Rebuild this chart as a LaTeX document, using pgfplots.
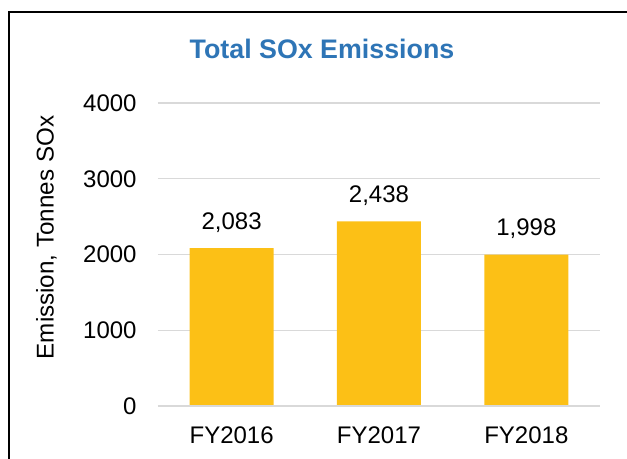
\documentclass[border=0pt]{standalone}
\usepackage{fontspec}
\setmainfont{Liberation Sans}
\usepackage{pgfplots}
\pgfplotsset{compat=1.18}
\definecolor{barfill}{HTML}{FCC016}
\definecolor{titleblue}{HTML}{2E75B6}
\definecolor{gridgray}{HTML}{D9D9D9}
\begin{document}
\begin{tikzpicture}
\path[use as bounding box] (-79pt,-26.5pt) rectangle (234.5pt,203pt);
\draw[black, line width=1pt] (-74.5pt,-26.5pt) -- (-74.5pt,197pt) -- (234.5pt,197pt);
\begin{axis}[
  at={(0,0)}, anchor=south west,
  scale only axis,
  width=221pt, height=151.5pt,
  ybar, bar width=42pt,
  xmin=-0.5, xmax=2.5,
  ymin=0, ymax=4000,
  ytick={0,1000,2000,3000,4000},
  xtick={0,1,2},
  xticklabels={FY2016,FY2017,FY2018},
  major tick length=0pt,
  axis line style={draw=none},
  ymajorgrids,
  grid style={gridgray, line width=0.6pt},
  tick label style={font=\fontsize{12}{14}\selectfont, black},
  /pgf/number format/assume math mode=true,
  yticklabel style={/pgf/number format/fixed, /pgf/number format/1000 sep={},
    anchor=east, inner sep=0pt, xshift=-10.5pt},
  xticklabel style={anchor=base, inner sep=0pt, yshift=-19pt},
  scaled y ticks=false,
  ylabel={Emission, Tonnes SOx},
  ylabel style={font=\fontsize{12.1}{14}\selectfont, at={(axis description cs:-0.2523,0.556)}, anchor=center, inner sep=0pt},
  nodes near coords,
  nodes near coords style={font=\fontsize{12}{14}\selectfont, black, anchor=base, inner sep=0pt, yshift=9.5pt,
    /pgf/number format/1000 sep={,}, /pgf/number format/assume math mode=true},
  clip=false,
]
\addplot[fill=barfill, draw=none] coordinates {(0,2083) (1,2438) (2,1998)};
\draw[gridgray, line width=0.6pt] (axis cs:-0.5,0) -- (axis cs:2.5,0);
\end{axis}
\node[anchor=base, font=\fontsize{13.4}{16}\bfseries, text=titleblue] at (82pt,173.5pt) {Total SOx Emissions};
\end{tikzpicture}
\end{document}
